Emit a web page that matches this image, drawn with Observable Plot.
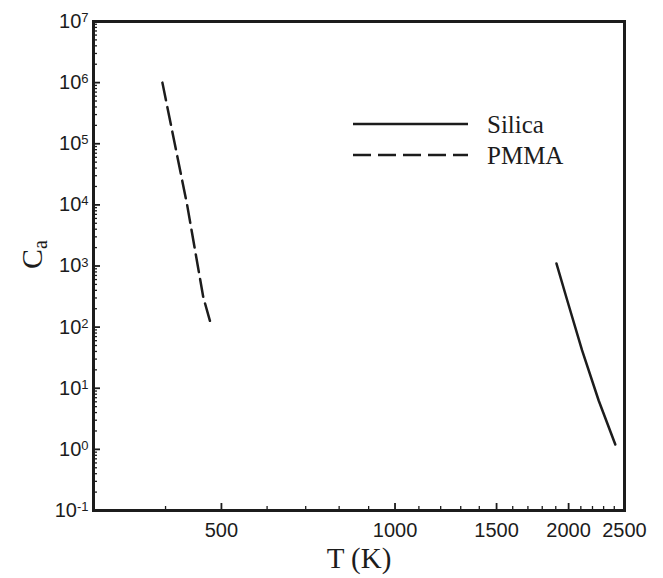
<!DOCTYPE html>
<html><head><meta charset="utf-8">
<script src="https://cdn.jsdelivr.net/npm/d3@7"></script>
<script src="https://cdn.jsdelivr.net/npm/@observablehq/plot@0.6"></script>
<style>body{margin:0;background:#fff}#chart{position:relative;width:663px;height:578px}</style>
</head><body><div id="chart"></div>
<script>
// ---- data ----
const seriesNames = ["Silica", "PMMA"];
const silicaT  = [1905, 1990, 2110, 2255, 2410];
const silicaCa = [1100, 270, 42, 6.3, 1.2];
const pmmaT  = [395, 415, 436, 455, 465, 480];
const pmmaCa = [1e6, 1e5, 1e4, 1e3, 310, 107];
const xTickLabels = [500, 1000, 1500, 2000, 2500];
const xMinorTicks = [400, 600, 700, 800, 900, 1100, 1200, 1300, 1400, 1600, 1700, 1800, 1900, 2100, 2200, 2300, 2400];
const yExponents = [-1, 0, 1, 2, 3, 4, 5, 6, 7];
const xTitle = "T (K)";
const yTitleMain = "C", yTitleSub = "a";

// ---- layout ----
const W = 663, H = 578, mL = 93, mR = 39, mT = 21, mB = 68;
const innerW = W - mL - mR, innerH = H - mT - mB;
const ink = "#1c1c1c";
const serif = "'Liberation Serif', 'Times New Roman', serif";

const silica = silicaT.map((t, i) => ({T: t, Ca: silicaCa[i]}));
const pmma = pmmaT.map((t, i) => ({T: t, Ca: pmmaCa[i]}));
const yMajor = yExponents.map(e => 10 ** e);
const yMinor = [];
yExponents.slice(0, -1).forEach(e => { for (let k = 2; k <= 9; k++) yMinor.push(k * 10 ** e); });

const plot = Plot.plot({
  width: W, height: H,
  marginLeft: mL, marginRight: mR, marginTop: mT, marginBottom: mB,
  x: {type: "log", domain: [300, 2500], axis: null},
  y: {type: "log", domain: [0.1, 1e7], axis: null},
  style: {fontFamily: "'Liberation Sans', Arial, sans-serif", fontSize: "20px", color: ink, background: "#fff"},
  marks: [
    Plot.tickX(xMinorTicks, {x: d => d, insetTop: innerH - 4, stroke: ink, strokeWidth: 1.3}),
    Plot.tickX(xTickLabels, {x: d => d, insetTop: innerH - 7, stroke: ink, strokeWidth: 1.8}),
    Plot.tickY(yMinor, {y: d => d, insetRight: innerW - 4, stroke: ink, strokeWidth: 1.3}),
    Plot.tickY(yMajor, {y: d => d, insetRight: innerW - 7, stroke: ink, strokeWidth: 1.8}),
    Plot.frame({stroke: ink, strokeWidth: 3}),
    Plot.line(silica, {x: "T", y: "Ca", stroke: ink, strokeWidth: 2.5}),
    Plot.line(pmma, {x: "T", y: "Ca", stroke: ink, strokeWidth: 2.5, strokeDasharray: "18,7"}),
    Plot.text(xTickLabels, {x: d => d, text: d => String(d), frameAnchor: "bottom", dy: 26, fontSize: 20, fill: ink}),
    Plot.text(yExponents, {y: d => 10 ** d, text: d => "10^" + d, frameAnchor: "left", dx: -5, textAnchor: "end", fontSize: 20, fill: ink}),
    Plot.text([xTitle], {text: d => d, frameAnchor: "bottom", dy: 57, fontSize: 29, fontFamily: serif, fill: ink}),
    Plot.text([yTitleMain + yTitleSub], {text: d => d, frameAnchor: "left", dx: -61, dy: 3, rotate: -90, fontSize: 30, fontFamily: serif, fill: ink})
  ]
});

d3.select(plot).selectAll("text").each(function() {
  const t = this.textContent;
  const s = d3.select(this);
  const m = t.match(/^10\^(-?\d+)$/);
  if (m) {
    s.text(null);
    s.append("tspan").text("10");
    s.append("tspan").attr("dy", "-0.45em").attr("font-size", "13px").text(m[1]);
  } else if (t === yTitleMain + yTitleSub) {
    s.text(null);
    s.append("tspan").text(yTitleMain);
    s.append("tspan").attr("dy", "0.25em").attr("font-size", "20px").text(yTitleSub);
  }
});

const chart = document.getElementById("chart");
chart.appendChild(plot);

// legend overlay
const leg = d3.select(chart).append("svg")
  .attr("width", W).attr("height", H)
  .style("position", "absolute").style("left", "0px").style("top", "0px").style("pointer-events", "none");
seriesNames.forEach((name, i) => {
  const y = 124 + i * 31;
  leg.append("line").attr("x1", 353).attr("x2", 468).attr("y1", y).attr("y2", y)
    .attr("stroke", ink).attr("stroke-width", 2.5)
    .attr("stroke-dasharray", i === 1 ? "18,7" : null);
  leg.append("text").attr("x", 487).attr("y", y).attr("dy", "0.35em")
    .attr("font-family", serif).attr("font-size", 25).attr("fill", ink).text(name);
});
</script>
</body></html>
